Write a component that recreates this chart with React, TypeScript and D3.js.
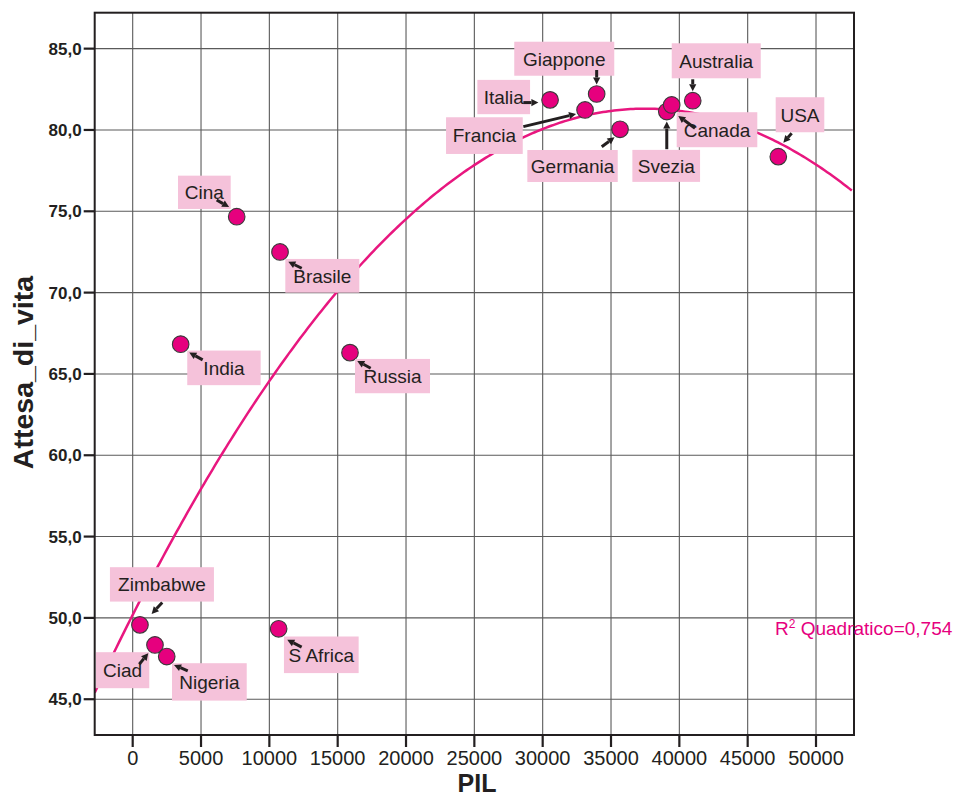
import React from "react";
import * as d3 from "d3";

// Country data: GDP per capita (PIL) vs life expectancy (Attesa_di_vita)
const countries = [
  "Cina", "Brasile", "India", "Russia", "Zimbabwe", "Ciad", "Nigeria", "S Africa",
  "Giappone", "Italia", "Francia", "Germania", "Svezia", "Canada", "Australia", "USA",
];
const pil = [
  7610, 10780, 3510, 15900, 530, 1630, 2490, 10680,
  33950, 30540, 33100, 35660, 39080, 39440, 40980, 47240,
];
const attesa = [
  74.67, 72.5, 66.83, 66.31, 49.57, 48.34, 47.62, 49.33,
  82.21, 81.85, 81.23, 80.04, 81.13, 81.54, 81.8, 78.36,
];

const xTicks = [0, 5000, 10000, 15000, 20000, 25000, 30000, 35000, 40000, 45000, 50000];
const yTicks = [45, 50, 55, 60, 65, 70, 75, 80, 85];
const r2Label = "0,754";

// Label box and leader-arrow placement, in pixels relative to each point
// [boxDx, boxDy, boxW, boxH, arrowX1, arrowY1, arrowX2, arrowY2]
const labelPlacement: Record<string, number[]> = {
  Cina: [-58.7, -41, 52.7, 33.3, -20, -16.7, -7.6, -9.6],
  Brasile: [5.3, 7, 74, 33.7, 21.7, 16.3, 8.3, 9.7],
  India: [6.6, 6.4, 73.4, 34.6, 22, 15.7, 8.6, 8.4],
  Russia: [5, 6.3, 75, 34.3, 20.7, 15.6, 7.3, 8.3],
  Zimbabwe: [-30, -57.7, 104, 34.4, 22.3, -22.3, 11.7, -11],
  Ciad: [-59, 7.3, 53.3, 36, -15.7, 19.3, -6.7, 8.3],
  Nigeria: [5.3, 6.6, 74.7, 37.4, 21, 14.3, 7.3, 8.3],
  "S Africa": [5.3, 7.7, 74.7, 36.6, 23, 18.3, 8.6, 11],
  Giappone: [-82.4, -52.3, 100, 34, 0, -24, 0, -9.5],
  Italia: [-72.7, -20, 52.7, 34.3, -26.7, 2.7, -11.7, 2.7],
  Francia: [-139, 7.3, 76.7, 36.7, -61.7, 16.7, -9, 4],
  Germania: [-92.7, 20.7, 90.4, 32, -18.3, 17.4, -5.5, 8],
  Svezia: [-34.4, 38.3, 67.7, 32, 0, 37.6, 0, 10],
  Canada: [5, 7.3, 80.6, 35, 23.3, 23.3, 6.6, 11],
  Australia: [-21, -57.4, 89, 35, 0, -21.4, 0, -9.5],
  USA: [-2.6, -59.4, 48.6, 35, 13.4, -23.4, 5, -14],
};

const W = 956;
const H = 797;
const plot = { left: 94.7, top: 12.7, right: 854, bottom: 735 };

const MAGENTA = "#e6007e";
const LABEL_BG = "#f5c2da";
const INK = "#231f20";

// Least-squares quadratic fit y = a + b x + c x^2
function quadFit(xs: number[], ys: number[]) {
  const n = xs.length;
  const s = (f: (x: number, y: number) => number) => d3.sum(xs, (x, i) => f(x, ys[i]));
  const sx = s((x) => x), sx2 = s((x) => x * x), sx3 = s((x) => x ** 3), sx4 = s((x) => x ** 4);
  const sy = s((_, y) => y), sxy = s((x, y) => x * y), sx2y = s((x, y) => x * x * y);
  const M = [
    [n, sx, sx2, sy],
    [sx, sx2, sx3, sxy],
    [sx2, sx3, sx4, sx2y],
  ];
  for (let i = 0; i < 3; i++) {
    for (let k = i + 1; k < 3; k++) {
      const f = M[k][i] / M[i][i];
      for (let j = i; j < 4; j++) M[k][j] -= f * M[i][j];
    }
  }
  const c = M[2][3] / M[2][2];
  const b = (M[1][3] - M[1][2] * c) / M[1][1];
  const a = (M[0][3] - M[0][1] * b - M[0][2] * c) / M[0][0];
  return (x: number) => a + b * x + c * x * x;
}

function Arrow({ x1, y1, x2, y2 }: { x1: number; y1: number; x2: number; y2: number }) {
  const ang = Math.atan2(y2 - y1, x2 - x1);
  const len = 7;
  const half = 3.6;
  const bx = x2 - len * Math.cos(ang);
  const by = y2 - len * Math.sin(ang);
  const px = -Math.sin(ang) * half;
  const py = Math.cos(ang) * half;
  return (
    <g>
      <line x1={x1} y1={y1} x2={bx} y2={by} stroke={INK} strokeWidth={3} />
      <polygon
        points={`${x2},${y2} ${bx + px},${by + py} ${bx - px},${by - py}`}
        fill={INK}
      />
    </g>
  );
}

export default function App() {
  const x = d3.scaleLinear().domain([-2780, 52780]).range([plot.left, plot.right]);
  const y = d3.scaleLinear().domain([42.8, 87.21]).range([plot.bottom, plot.top]);

  const fit = quadFit(pil, attesa);
  const curveXs = d3.range(-2780, 52781, 200);
  const line = d3
    .line<number>()
    .x((v) => x(v))
    .y((v) => y(fit(v)));

  const font = "'Liberation Sans', Arial, Helvetica, sans-serif";

  return (
    <svg
      width={W}
      height={H}
      style={{ position: "absolute", left: 0, top: 0, background: "#fff" }}
      fontFamily={font}
    >
      <defs>
        <clipPath id="plotClip">
          <rect x={plot.left} y={plot.top} width={plot.right - plot.left} height={plot.bottom - plot.top} />
        </clipPath>
      </defs>

      {/* grid */}
      {xTicks.map((t) => (
        <line key={"gx" + t} x1={x(t)} x2={x(t)} y1={plot.top} y2={plot.bottom} stroke="#5a5a5a" strokeWidth={1.1} />
      ))}
      {yTicks.map((t) => (
        <line key={"gy" + t} x1={plot.left} x2={plot.right} y1={y(t)} y2={y(t)} stroke="#5a5a5a" strokeWidth={1.1} />
      ))}

      {/* fitted quadratic */}
      <path
        d={line(curveXs) ?? ""}
        fill="none"
        stroke="#e8177f"
        strokeWidth={2.5}
        clipPath="url(#plotClip)"
      />

      {/* frame */}
      <rect
        x={plot.left}
        y={plot.top}
        width={plot.right - plot.left}
        height={plot.bottom - plot.top}
        fill="none"
        stroke={INK}
        strokeWidth={2}
      />

      {/* axes ticks and labels */}
      {xTicks.map((t) => (
        <g key={"xt" + t}>
          <line x1={x(t)} x2={x(t)} y1={plot.bottom} y2={plot.bottom + 12} stroke={INK} strokeWidth={2.2} />
          <text x={x(t)} y={764.5} textAnchor="middle" fontSize={20} fill={INK}>
            {String(t)}
          </text>
        </g>
      ))}
      {yTicks.map((t) => (
        <g key={"yt" + t}>
          <line x1={plot.left - 11} x2={plot.left} y1={y(t)} y2={y(t)} stroke={INK} strokeWidth={2.2} />
          <text
            x={plot.left - 13}
            y={y(t)}
            dy="0.35em"
            textAnchor="end"
            fontSize={17}
            fontWeight="bold"
            fill={INK}
          >
            {d3.format(".1f")(t).replace(".", ",")}
          </text>
        </g>
      ))}

      <text x={477} y={791.6} textAnchor="middle" fontSize={25} fontWeight="bold" fill={INK}>
        PIL
      </text>
      <text
        transform={`translate(32.7, 372.5) rotate(-90)`}
        textAnchor="middle"
        fontSize={28.5}
        fontWeight="bold"
        fill={INK}
      >
        Attesa_di_vita
      </text>

      {/* points */}
      {countries.map((c, i) => (
        <circle key={"p" + c} cx={x(pil[i])} cy={y(attesa[i])} r={8.3} fill={MAGENTA} stroke="#3a3a3a" strokeWidth={1.1} />
      ))}

      {/* labels */}
      {countries.map((c, i) => {
        const px = x(pil[i]);
        const py = y(attesa[i]);
        const [bdx, bdy, bw, bh, ax1, ay1, ax2, ay2] = labelPlacement[c];
        return (
          <g key={"l" + c}>
            <rect x={px + bdx} y={py + bdy} width={bw} height={bh} fill={LABEL_BG} />
            <text
              x={px + bdx + bw / 2}
              y={py + bdy + bh / 2}
              dy="0.36em"
              textAnchor="middle"
              fontSize={19}
              fill={INK}
            >
              {c}
            </text>
            <Arrow x1={px + ax1} y1={py + ay1} x2={px + ax2} y2={py + ay2} />
          </g>
        );
      })}

      <text x={775} y={635} fontSize={19} fill={MAGENTA}>
        R<tspan dy={-7} fontSize={12}>2</tspan>
        <tspan dy={7}> Quadratico={r2Label}</tspan>
      </text>
    </svg>
  );
}
